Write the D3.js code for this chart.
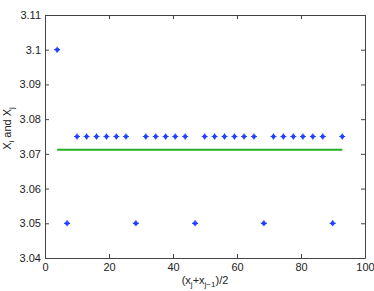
<!DOCTYPE html>
<html>
<head>
<meta charset="utf-8">
<script src="https://cdn.jsdelivr.net/npm/d3@7"></script>
<style>
  body { margin: 0; background: #fff; }
  text { font-family: "Liberation Sans", Arial, sans-serif; }
</style>
</head>
<body>
<div class="canvas"></div>
<script>
// data
const xs = [3.8, 6.9, 10.0, 13.0, 16.1, 19.2, 22.3, 25.3, 28.4, 31.5, 34.6, 37.7, 40.7, 43.8, 46.9,
    49.9, 53.0, 56.1, 59.2, 62.2, 65.3, 68.4, 71.4, 74.5, 77.6, 80.6, 83.7, 86.8, 89.9, 92.9];
const vals = [3.1, 3.05, 3.075, 3.075, 3.075, 3.075, 3.075, 3.075, 3.05, 3.075, 3.075, 3.075, 3.075, 3.075, 3.05,
    3.075, 3.075, 3.075, 3.075, 3.075, 3.075, 3.05, 3.075, 3.075, 3.075, 3.075, 3.075, 3.075, 3.05, 3.075];
const meanX = [3.8, 92.9];
const meanY = [3.0712, 3.0712];
const xTicks = [0, 20, 40, 60, 80, 100];
const yTicks = [3.04, 3.05, 3.06, 3.07, 3.08, 3.09, 3.1, 3.11];

const width = 374, height = 291;
const margin = { top: 15, right: 9, bottom: 33, left: 45 };
const graphWidth = width - margin.left - margin.right;
const graphHeight = height - margin.top - margin.bottom;

const svg = d3.select('.canvas')
    .append('svg')
    .attr('width', width)
    .attr('height', height);

const graph = svg.append('g')
    .attr('transform', `translate(${margin.left}, ${margin.top})`);

const x = d3.scaleLinear().domain([0, 100]).range([0, graphWidth]);
const y = d3.scaleLinear().domain([3.04, 3.11]).range([graphHeight, 0]);

// axes, MATLAB style: ticks pointing in, box all round
const tickLen = 4;
const xAxis = d3.axisBottom(x).tickValues(xTicks).tickSizeInner(-tickLen).tickSizeOuter(0).tickPadding(5);
const yAxis = d3.axisLeft(y).tickValues(yTicks).tickSizeInner(-tickLen).tickSizeOuter(0).tickPadding(4)
    .tickFormat(d => d3.format('')(+d.toFixed(2)));
const xTop = d3.axisTop(x).tickValues(xTicks).tickSizeInner(-tickLen).tickSizeOuter(0).tickFormat('');
const yRight = d3.axisRight(y).tickValues(yTicks).tickSizeInner(-tickLen).tickSizeOuter(0).tickFormat('');

graph.append('g').attr('transform', `translate(0, ${graphHeight})`).call(xAxis);
graph.append('g').call(yAxis);
graph.append('g').call(xTop);
graph.append('g').attr('transform', `translate(${graphWidth}, 0)`).call(yRight);

graph.selectAll('.domain').attr('stroke', '#444');
graph.selectAll('.tick line').attr('stroke', '#444');
graph.selectAll('.tick text')
    .attr('font-size', 11)
    .attr('fill', '#222')
    .style('font-family', '"Liberation Sans", Arial, sans-serif');

// mean line
const line = d3.line().x(d => x(d[0])).y(d => y(d[1]));
graph.append('path')
    .datum(d3.zip(meanX, meanY))
    .attr('d', line)
    .attr('fill', 'none')
    .attr('stroke', '#22b022')
    .attr('stroke-width', 2);

// star markers
const r = 3;
const q = r * 0.5;
graph.selectAll('.pt')
    .data(d3.zip(xs, vals))
    .enter()
    .append('path')
    .attr('class', 'pt')
    .attr('transform', d => `translate(${x(d[0])}, ${y(d[1])})`)
    .attr('d', `M${-r},0H${r}M0,${-r}V${r}M${-q},${-q}L${q},${q}M${-q},${q}L${q},${-q}`)
    .attr('stroke', '#2040ff')
    .attr('stroke-width', 1.2)
    .attr('fill', 'none');

// axis labels
const xl = svg.append('text')
    .attr('x', margin.left + graphWidth / 2)
    .attr('y', 284)
    .attr('text-anchor', 'middle')
    .attr('font-size', 11)
    .attr('fill', '#222');
xl.append('tspan').text('(x');
xl.append('tspan').attr('font-size', 8).attr('dy', 3).text('j');
xl.append('tspan').attr('dy', -3).text('+x');
xl.append('tspan').attr('font-size', 8).attr('dy', 3).text('j\u22121');
xl.append('tspan').attr('dy', -3).text(')/2');

const yl = svg.append('text')
    .attr('transform', `translate(11, ${margin.top + graphHeight / 2 - 8}) rotate(-90)`)
    .attr('text-anchor', 'middle')
    .attr('font-size', 11)
    .attr('fill', '#222');
yl.append('tspan').text('X');
yl.append('tspan').attr('font-size', 8).attr('dy', 3).text('i');
yl.append('tspan').attr('dy', -3).text(' and X');
yl.append('tspan').attr('font-size', 8).attr('dy', 3).text('j');
</script>
</body>
</html>
